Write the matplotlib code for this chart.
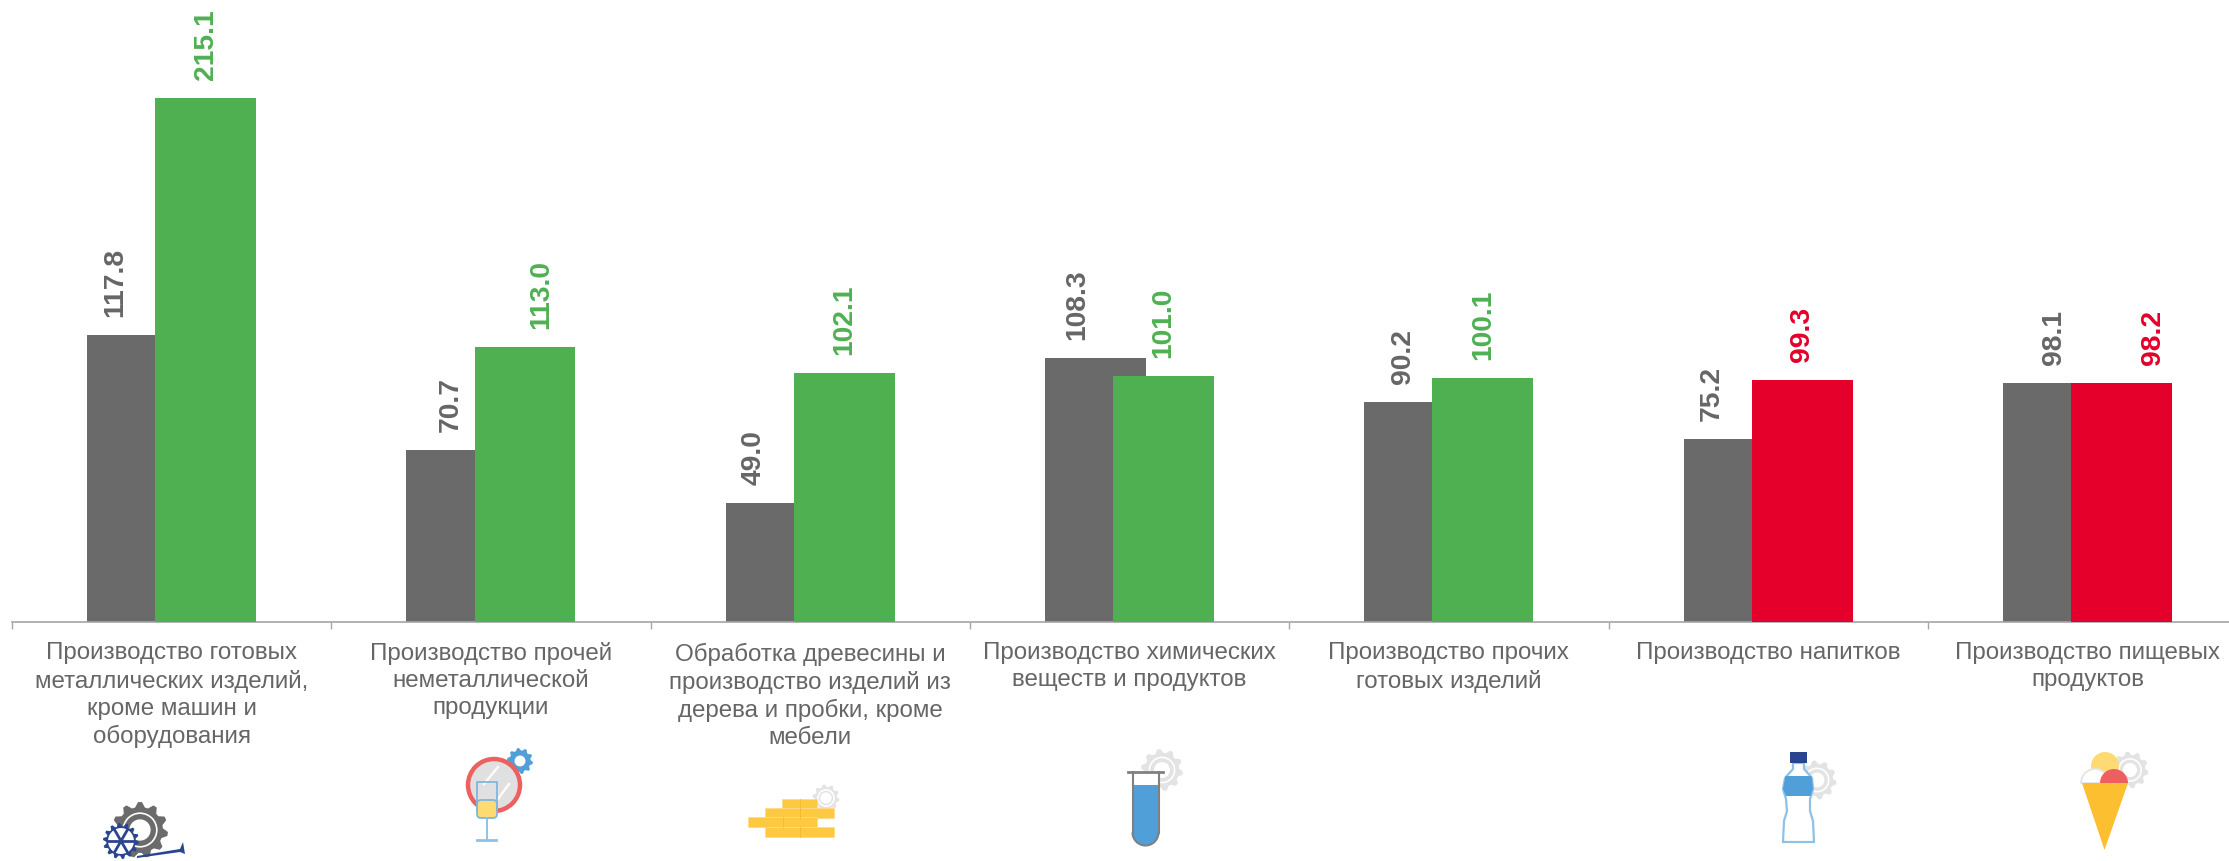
import numpy as np
import matplotlib
matplotlib.use("Agg")
import matplotlib.pyplot as plt
from matplotlib.patches import Circle, Rectangle, Polygon, Wedge, FancyBboxPatch, Arc

categories = [
    "Производство готовых\nметаллических изделий,\nкроме машин и\nоборудования",
    "Производство прочей\nнеметаллической\nпродукции",
    "Обработка древесины и\nпроизводство изделий из\nдерева и пробки, кроме\nмебели",
    "Производство химических\nвеществ и продуктов",
    "Производство прочих\nготовых изделий",
    "Производство напитков",
    "Производство пищевых\nпродуктов",
]
previous_values = [117.8, 70.7, 49.0, 108.3, 90.2, 75.2, 98.1]
current_values = [215.1, 113.0, 102.1, 101.0, 100.1, 99.3, 98.2]

GRAY = "#6a6a6a"
GREEN = "#4fb052"
RED = "#e4002b"
TEXT = "#666666"
GEAR = "#e3e3e3"
BLUE = "#509fd8"
NAVY = "#2a4590"
YELLOW = "#fedb72"
AMBER = "#fcbf30"
CORAL = "#ee5f5f"
W, H = 2229, 862
FONT = "Liberation Sans"

# manual label placement, in category units from the category centre
left_label_shift = [-0.177, -0.126, -0.178, -0.163, -0.145, -0.177, -0.104]
right_label_shift = [0.1065, 0.158, 0.1065, 0.1065, 0.1065, 0.1065, 0.2065]

fig = plt.figure(figsize=(W / 100, H / 100), dpi=100, facecolor="white")
left, right, base = 12, W, 623
ax = fig.add_axes([left / W, 1 - base / H, (right - left) / W, base / H])
step = 319.3
x = np.arange(len(categories))
bw, off = 0.316, 0.1065
ax.bar(x - off, previous_values, bw, color=GRAY, zorder=2)
bar_colors = [GREEN if v > 100 else RED for v in current_values]
ax.bar(x + off, current_values, bw, color=bar_colors, zorder=3)

for i, (p, c, col) in enumerate(zip(previous_values, current_values, bar_colors)):
    ax.annotate(f"{p:.1f}", (i + left_label_shift[i], p), xytext=(0, 13.5), textcoords="offset points",
                rotation=90, ha="center", va="bottom", fontsize=20.3, fontweight="bold",
                color=TEXT, family=FONT, zorder=5)
    ax.annotate(f"{c:.1f}", (i + right_label_shift[i], c), xytext=(0, 13.5), textcoords="offset points",
                rotation=90, ha="center", va="bottom", fontsize=20.3, fontweight="bold",
                color=col, family=FONT, zorder=5)

for s in ("top", "left", "right"):
    ax.spines[s].set_visible(False)
ax.spines["bottom"].set_color("#a6a6a6")
ax.spines["bottom"].set_linewidth(1.2)
ax.set_yticks([])
ax.set_xticks(np.arange(len(categories) + 1) - 0.5)
ax.set_xticklabels([])
ax.tick_params(axis="x", which="major", length=5, width=1, color="#a6a6a6")
ax.set_xticks(x, minor=True)
ax.set_xticklabels(categories, minor=True, fontsize=17.4, color=TEXT, family=FONT, linespacing=1.29)
ax.tick_params(axis="x", which="minor", length=0, pad=14)
ax.set_xlim(-0.5, -0.5 + (right - left) / step)
ax.set_ylim(0, base / 2.4375)
ax.patch.set_alpha(0)

# Decorative icons, drawn in pixel coordinates on an overlay
ov = fig.add_axes([0, 0, 1, 1], zorder=-1)
ov.set_xlim(0, W); ov.set_ylim(H, 0); ov.axis("off")


def gear(cx, cy, r, color, teeth=10, hole=0.38, ring=True):
    pts = []
    n = teeth * 4
    for k in range(n):
        a = 2 * np.pi * (k + 0.5) / n
        rr = r if k % 4 in (0, 1) else r * 0.82
        pts.append((cx + rr * np.cos(a), cy + rr * np.sin(a)))
    ov.add_patch(Polygon(pts, closed=True, fc=color, ec="none"))
    if ring:
        ov.add_patch(Circle((cx, cy), r * 0.6, fc="none", ec="white", lw=1.2))
    ov.add_patch(Circle((cx, cy), r * hole, fc="white", ec="none"))


# 1: metal products
gear(140, 831, 28, "#6b6b6b", teeth=11)
gear(121, 842, 18, NAVY, teeth=14, hole=0.72, ring=False)
for a in np.arange(0, np.pi, np.pi / 3):
    ov.plot([121 - 13 * np.cos(a), 121 + 13 * np.cos(a)], [842 - 13 * np.sin(a), 842 + 13 * np.sin(a)],
            color=NAVY, lw=2)
ov.add_patch(Polygon([(137, 857), (180, 850), (183, 843), (185, 855), (180, 853), (137, 859)], fc=NAVY, ec="none"))

# 2: non-metal products (mirror and glass)
gear(520, 762, 13, BLUE, teeth=10, hole=0.42, ring=False)
ov.add_patch(Circle((494, 786), 26, fc="#e0e0e0", ec=CORAL, lw=3.2))
for (x0, y0, x1, y1) in [(484, 785, 498, 768), (498, 800, 509, 785)]:
    ov.plot([x0, x1], [y0, y1], color="white", lw=1.6)
ov.add_patch(FancyBboxPatch((477, 801), 20, 18, boxstyle="round,pad=0,rounding_size=4", fc=YELLOW, ec="none"))
ov.add_patch(Rectangle((477, 801), 20, 8, fc=YELLOW, ec="none"))
ov.plot([477, 477, 497, 497], [810, 783, 783, 810], color="#7fb6df", lw=1.3)
ov.add_patch(FancyBboxPatch((477, 801), 20, 18, boxstyle="round,pad=0,rounding_size=4", fc="none", ec="#7fb6df", lw=1.3))
ov.plot([487, 487], [819, 841], color="#8fc1e6", lw=1.4)
ov.plot([477, 496], [841, 841], color="#8fc1e6", lw=2)

# 3: wood
gear(826, 799, 13.5, GEAR, teeth=10, hole=0.42)
for (x0, x1, y0, y1) in [(782, 817, 800, 809), (765, 834, 809, 819), (748, 817, 818, 828), (765, 834, 828, 838)]:
    ov.add_patch(Rectangle((x0, y0), x1 - x0, y1 - y0, fc="#fdc940", ec="#fddc85", lw=0.6))
    xm = (x0 + x1) / 2
    ov.plot([xm, xm], [y0, y1], color="#f5b92c", lw=0.6)

# 4: chemicals (test tube)
gear(1162, 771, 21, GEAR, teeth=10, hole=0.38)
ov.add_patch(Rectangle((1132.5, 773), 26, 60, fc="white", ec="none"))
ov.add_patch(Rectangle((1132.5, 786), 26, 48, fc=BLUE, ec="none"))
ov.add_patch(Wedge((1145.5, 833.5), 13, 0, 180, fc=BLUE, ec="none"))
ov.add_patch(Arc((1145.5, 833.5), 26, 26, theta1=0, theta2=180, color="#808080", lw=1.5))
ov.plot([1132.5, 1132.5], [773, 834], color="#808080", lw=1.5)
ov.plot([1158.5, 1158.5], [773, 834], color="#808080", lw=1.5)
ov.plot([1127.5, 1163], [773, 773], color="#808080", lw=2)

# 6: beverages (bottle)
gear(1817, 781, 19.5, GEAR, teeth=10, hole=0.38)
outline = [(1793, 764), (1793, 770), (1785, 779), (1783, 790), (1786, 800), (1787, 812), (1784, 822), (1783, 843),
           (1814, 843), (1813, 822), (1810, 812), (1810, 800), (1813, 790), (1812, 779), (1804, 770), (1804, 764)]
ov.add_patch(Polygon(outline, closed=True, fc="white", ec="#8fc1e6", lw=1.6))
ov.add_patch(Polygon([(1785.5, 777), (1811.5, 777), (1813, 790), (1810.5, 797), (1786, 797), (1783, 790)], fc=BLUE, ec="none"))
ov.add_patch(Rectangle((1790, 753), 17, 11, fc=NAVY, ec="none"))

# 7: food (ice cream)
gear(2130, 771, 18.5, GEAR, teeth=10, hole=0.38)
ov.add_patch(Circle((2105, 767), 14, fc=YELLOW, ec="none"))
ov.add_patch(Wedge((2095, 784), 14, 180, 360, fc="white", ec="#e5e5e5", lw=1.3))
ov.add_patch(Wedge((2114, 784), 14, 180, 360, fc=CORAL, ec="none"))
ov.add_patch(Polygon([(2082, 784), (2128, 784), (2104.5, 851)], fc=AMBER, ec="none"))

fig.savefig("out.png", dpi=100, facecolor="white")
